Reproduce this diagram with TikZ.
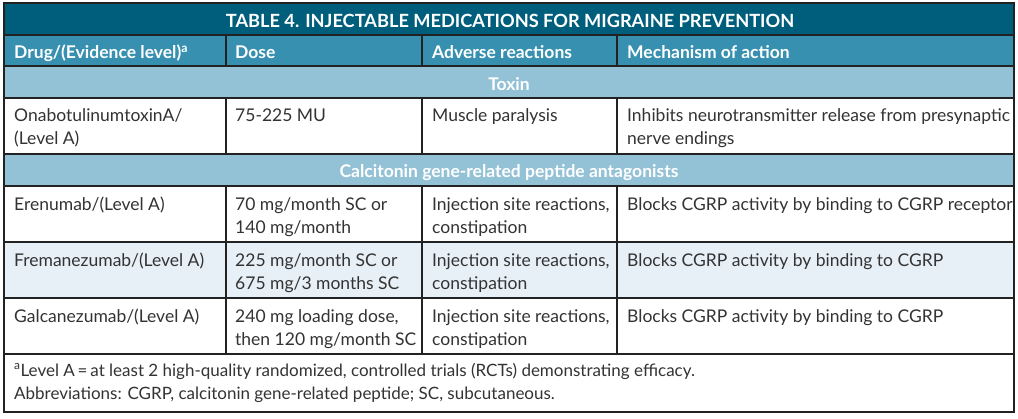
\documentclass[tikz,border=0pt]{standalone}
\usepackage{fontspec}
\setmainfont{Lato}
\definecolor{titlebg}{HTML}{005E7D}
\definecolor{headbg}{HTML}{3790B0}
\definecolor{secbg}{HTML}{93C1D6}
\definecolor{altbg}{HTML}{E7F0F6}
\definecolor{txt}{HTML}{333333}
\definecolor{rule}{HTML}{222222}
\newcommand{\bodyfnt}{\fontsize{17.5}{23}\selectfont}
\newcommand{\footfnt}{\fontsize{17}{23.5}\selectfont}
\tikzset{
  cell/.style={anchor=base west, inner sep=0pt, align=left, font=\bodyfnt, text=txt},
  celltwo/.style={cell, yshift=-23pt},
  headcell/.style={anchor=base west, inner sep=0pt, align=left, font=\bodyfnt\bfseries, text=white},
  sectcell/.style={anchor=base, inner sep=0pt, font=\bodyfnt\bfseries, text=white},
  titlecell/.style={anchor=base, inner sep=0pt, font=\fontsize{18.2}{23}\selectfont\bfseries, text=white},
  footcell/.style={anchor=base west, inner sep=0pt, align=left, font=\footfnt, text=txt, yshift=-23.5pt},
  hrule/.style={draw=rule, line width=1.1pt},
  frame/.style={draw=rule, line width=1.6pt}
}
\begin{document}
\begin{tikzpicture}[x=1pt,y=-1pt]
\useasboundingbox (0,0) rectangle (1018,418);
% backgrounds
\fill[white] (4,3) rectangle (1014,412);
\fill[titlebg] (4,3) rectangle (1014,35);
\fill[headbg] (4,35) rectangle (1014,66);
\fill[secbg] (4,66) rectangle (1014,98);
\fill[secbg] (4,154) rectangle (1014,186);
\fill[altbg] (4,242) rectangle (1014,298);
% horizontal rules
\foreach \yy in {35,66,98,154,186,242,298,354}
  \draw[hrule] (4,\yy) -- (1014,\yy);
% column rules
\foreach \xx in {226,422,617}{
  \draw[hrule] (\xx,35) -- (\xx,66);
  \draw[hrule] (\xx,98) -- (\xx,154);
  \draw[hrule] (\xx,186) -- (\xx,354);
}
\draw[frame] (4,3) rectangle (1014,412);
% title
\node[titlecell] (title) at (510,27) {TABLE 4. INJECTABLE MEDICATIONS FOR MIGRAINE PREVENTION};
% header
\node[headcell] (h1) at (14,58.5) {Drug/(Evidence level)\textsuperscript{a}};
\node[headcell] (h2) at (235,58.5) {Dose};
\node[headcell] (h3) at (432,58.5) {Adverse reactions};
\node[headcell] (h4) at (627,58.5) {Mechanism of action};
% toxin
\node[sectcell] (s1) at (509,90.5) {Toxin};
\node[celltwo] (r1c1) at (14,121) {OnabotulinumtoxinA/\\(Level A)};
\node[cell] (r1c2) at (235,121) {75-225 MU};
\node[cell] (r1c3) at (432,121) {Muscle paralysis};
\node[celltwo] (r1c4) at (627,121) {Inhibits neurotransmitter release from presynaptic\\nerve endings};
% CGRP
\node[sectcell] (s2) at (509,177.5) {Calcitonin gene-related peptide antagonists};
\node[cell] (r2c1) at (14,210) {Erenumab/(Level A)};
\node[celltwo] (r2c2) at (235,210) {70 mg/month SC or\\140 mg/month};
\node[celltwo] (r2c3) at (432,210) {Injection site reactions,\\constipation};
\node[cell] (r2c4) at (627,210) {Blocks CGRP activity by binding to CGRP receptor};
\node[cell] (r3c1) at (14,266) {Fremanezumab/(Level A)};
\node[celltwo] (r3c2) at (235,266) {225 mg/month SC or\\675 mg/3 months SC};
\node[celltwo] (r3c3) at (432,266) {Injection site reactions,\\constipation};
\node[cell] (r3c4) at (627,266) {Blocks CGRP activity by binding to CGRP};
\node[cell] (r4c1) at (14,322) {Galcanezumab/(Level A)};
\node[celltwo] (r4c2) at (235,322) {240 mg loading dose,\\then 120 mg/month SC};
\node[celltwo] (r4c3) at (432,322) {Injection site reactions,\\constipation};
\node[cell] (r4c4) at (627,322) {Blocks CGRP activity by binding to CGRP};
% footnote
\node[footcell] (foot) at (14,376) {\textsuperscript{a}Level A\,=\,at least 2 high-quality randomized, controlled trials (RCTs) demonstrating efficacy.\\Abbreviations: CGRP, calcitonin gene-related peptide; SC, subcutaneous.};
\end{tikzpicture}
\end{document}
